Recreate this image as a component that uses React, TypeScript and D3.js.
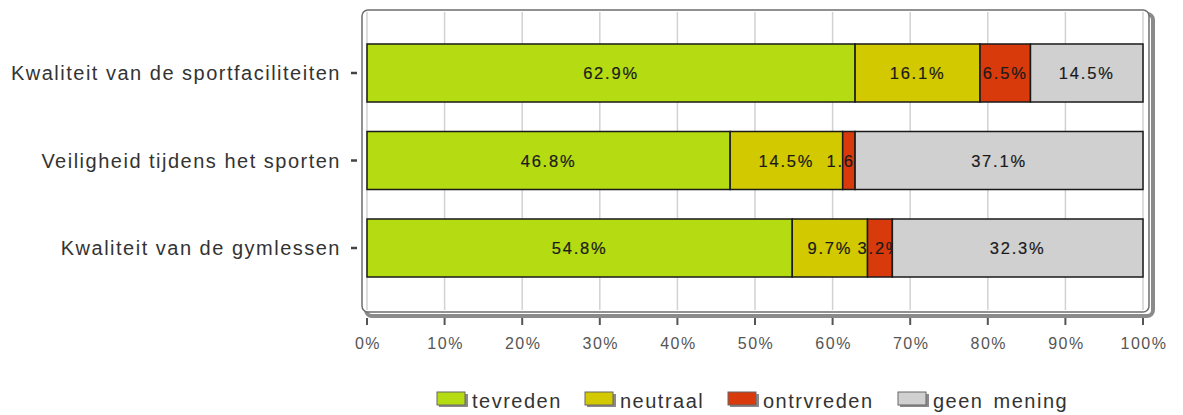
import React from "react";
import * as d3 from "d3";

const categories = [
  "Kwaliteit van de sportfaciliteiten",
  "Veiligheid tijdens het sporten",
  "Kwaliteit van de gymlessen",
];
const seriesNames = ["tevreden", "neutraal", "ontrvreden", "geen mening"];
const seriesColors = ["#b5db13", "#d3c900", "#d93a0c", "#d0d0d0"];
const tevreden = [62.9, 46.8, 54.8];
const neutraal = [16.1, 14.5, 9.7];
const ontrvreden = [6.5, 1.6, 3.2];
const geenMening = [14.5, 37.1, 32.3];
const xTicks = [0, 10, 20, 30, 40, 50, 60, 70, 80, 90, 100];

const W = 1183;
const H = 415;
const frame = { x0: 362, y0: 10, x1: 1149, y1: 312 };
const legendX = [437, 585, 728, 898];

export default function App() {
  const series = [tevreden, neutraal, ontrvreden, geenMening];
  const x = d3.scaleLinear().domain([0, 100]).range([367, 1143]);
  const y = d3
    .scaleBand<string>()
    .domain(categories)
    .range([29.25, 291.75])
    .paddingInner(0.337)
    .paddingOuter(0.1685);

  const rows = categories.map((c, i) => {
    const vals = series.map((s) => s[i]);
    const stack = d3.cumsum(vals);
    return vals.map((v, k) => ({ v, k, start: stack[k] - v, end: stack[k] }));
  });

  const numFont = "'Liberation Sans', Arial, sans-serif";

  return (
    <svg width={W} height={H} style={{ display: "block", position: "absolute", left: 0, top: 0 }}>
      <rect x={0} y={0} width={W} height={H} fill="#fff" />
      {/* frame shadow */}
      <rect
        x={frame.x0 + 4}
        y={frame.y0 + 4}
        width={frame.x1 - frame.x0}
        height={frame.y1 - frame.y0}
        rx={6}
        fill="none"
        stroke="#8a8a8a"
        strokeWidth={4}
      />
      <rect
        x={frame.x0}
        y={frame.y0}
        width={frame.x1 - frame.x0}
        height={frame.y1 - frame.y0}
        rx={6}
        fill="#fff"
        stroke="#6e6e6e"
        strokeWidth={1.5}
      />
      {/* gridlines */}
      {xTicks.map((t) => (
        <line
          key={"g" + t}
          x1={x(t)}
          x2={x(t)}
          y1={frame.y0 + 2}
          y2={frame.y1 - 2}
          stroke="#d2d2d2"
          strokeWidth={1.5}
        />
      ))}
      {/* x ticks */}
      {xTicks.map((t) => (
        <g key={"t" + t}>
          <line x1={x(t)} x2={x(t)} y1={318} y2={325} stroke="#555" strokeWidth={2} />
          <text
            x={x(t) + 1}
            y={349}
            textAnchor="middle"
            fontFamily={numFont}
            fontSize={16}
            letterSpacing={1.5}
            fill="#555"
          >
            {t + "%"}
          </text>
        </g>
      ))}
      {/* y labels and ticks */}
      {categories.map((c) => {
        const cy = (y(c) as number) + y.bandwidth() / 2;
        return (
          <g key={"y" + c}>
            <line x1={351} x2={357} y1={cy} y2={cy} stroke="#444" strokeWidth={2.5} />
            <text
              x={341}
              y={cy + 7}
              textAnchor="end"
              fontFamily={numFont}
              fontSize={20}
              letterSpacing={1.5}
              fill="#333"
            >
              {c}
            </text>
          </g>
        );
      })}
      {/* bars */}
      {categories.map((c, i) => {
        const top = y(c) as number;
        const bh = y.bandwidth();
        return (
          <g key={"b" + c}>
            {rows[i].map((seg) => (
              <g key={seg.k}>
                <rect
                  x={x(seg.start)}
                  y={top}
                  width={x(seg.end) - x(seg.start)}
                  height={bh}
                  fill={seriesColors[seg.k]}
                  stroke="#1a1a1a"
                  strokeWidth={1.5}
                />
                <text
                  x={(x(seg.start) + x(seg.end)) / 2}
                  y={top + bh / 2 + 6}
                  textAnchor="middle"
                  fontFamily={numFont}
                  fontSize={16.5}
                  letterSpacing={1.8}
                  fill="#1a1a1a"
                  stroke="#1a1a1a"
                  strokeWidth={0.2}
                >
                  {seg.v.toFixed(1) + "%"}
                </text>
              </g>
            ))}
          </g>
        );
      })}
      {/* legend */}
      {seriesNames.map((n, k) => (
        <g key={"l" + n}>
          <rect x={legendX[k] + 2} y={394} width={29} height={13} fill="#8a8a8a" />
          <rect
            x={legendX[k]}
            y={392}
            width={28}
            height={13}
            fill={seriesColors[k]}
            stroke="#666"
            strokeWidth={1}
          />
          <text
            x={legendX[k] + 35}
            y={408}
            fontFamily={numFont}
            fontSize={20}
            letterSpacing={1.5}
            wordSpacing={3}
            fill="#333"
          >
            {n}
          </text>
        </g>
      ))}
    </svg>
  );
}
